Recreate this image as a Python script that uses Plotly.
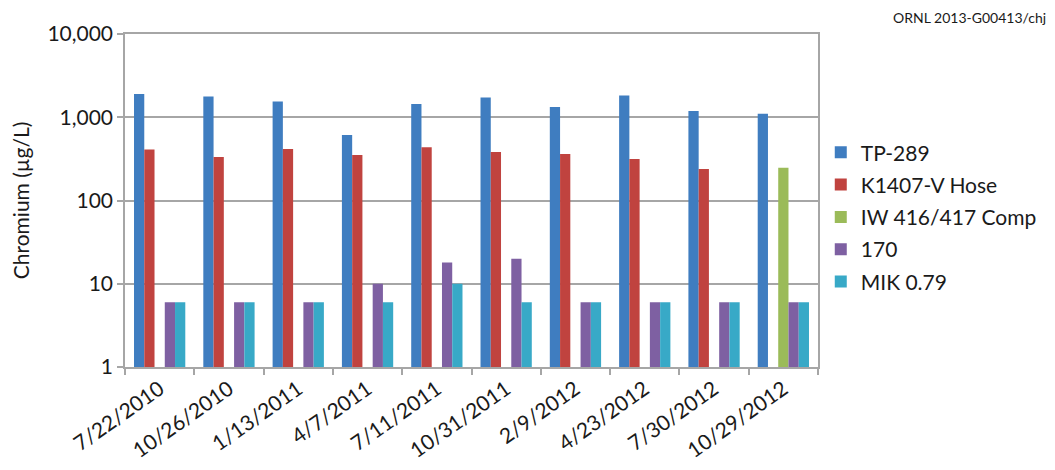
import plotly.graph_objects as go

# Sampling dates (category axis)
dates = ["7/22/2010", "10/26/2010", "1/13/2011", "4/7/2011", "7/11/2011",
         "10/31/2011", "2/9/2012", "4/23/2012", "7/30/2012", "10/29/2012"]

# Chromium concentrations, µg/L
tp_289 = [1900, 1780, 1550, 610, 1440, 1730, 1330, 1830, 1190, 1100]
k1407_v_hose = [410, 333, 415, 352, 435, 383, 362, 316, 239, None]
iw_416_417_comp = [None, None, None, None, None, None, None, None, None, 248]
well_170 = [6, 6, 6, 10, 18, 20, 6, 6, 6, 6]
mik_079 = [6, 6, 6, 6, 10, 6, 6, 6, 6, 6]

y_ticks = [1, 10, 100, 1000, 10000]
y_tick_text = ["1", "10", "100", "1,000", "10,000"]

series = [
    ("TP-289", tp_289, "#3F7DC0"),
    ("K1407-V Hose", k1407_v_hose, "#C0433F"),
    ("IW 416/417 Comp", iw_416_417_comp, "#9BBB59"),
    ("170", well_170, "#7E60A2"),
    ("MIK 0.79", mik_079, "#38A9C7"),
]

FONT = "Lato, 'Open Sans', sans-serif"
GRID = "#A6A6A6"

fig = go.Figure()
for i, (name, vals, color) in enumerate(series):
    fig.add_trace(go.Bar(
        name=name, x=dates, y=vals,
        marker=dict(color=color, line=dict(width=0)),
        legendgroup=f"g{i}",
    ))

fig.update_layout(
    width=1055, height=470,
    margin=dict(l=125, r=237, t=34, b=103),
    paper_bgcolor="white", plot_bgcolor="white",
    barmode="group", bargap=0.26, bargroupgap=0,
    font=dict(family=FONT, size=21, color="#1a1a1a"),
    showlegend=True,
    legend=dict(
        x=1.004, xanchor="left", y=0.45, yanchor="middle",
        font=dict(family=FONT, size=21, color="#1a1a1a"),
        tracegroupgap=2, itemwidth=30,
        bgcolor="rgba(0,0,0,0)",
    ),
    xaxis=dict(
        type="category", tickangle=-35, tickson="boundaries",
        ticks="outside", ticklen=6, tickcolor=GRID, tickwidth=1.5,
        showline=True, linecolor=GRID, linewidth=1.5, mirror=True,
        showgrid=False, automargin=False,
        tickfont=dict(family=FONT, size=21, color="#1a1a1a"),
    ),
    yaxis=dict(
        type="log", range=[0, 4],
        tickvals=y_ticks, ticktext=y_tick_text,
        ticks="outside", ticklen=6, tickcolor=GRID, tickwidth=1.5,
        showline=True, linecolor=GRID, linewidth=1.5, mirror=True,
        showgrid=True, gridcolor=GRID, gridwidth=1.5,
        zeroline=False, automargin=False,
        tickfont=dict(family=FONT, size=21, color="#1a1a1a"),
        title=dict(text="Chromium (µg/L)", standoff=12,
                   font=dict(family=FONT, size=21, color="#1a1a1a")),
    ),
    annotations=[dict(
        text="ORNL 2013-G00413/chj", xref="paper", yref="paper",
        x=1.0, xanchor="right", y=1.0, yanchor="bottom",
        xshift=230, yshift=6, showarrow=False,
        font=dict(family=FONT, size=14, color="#1a1a1a"),
    )],
)

fig.write_html("out.html")
